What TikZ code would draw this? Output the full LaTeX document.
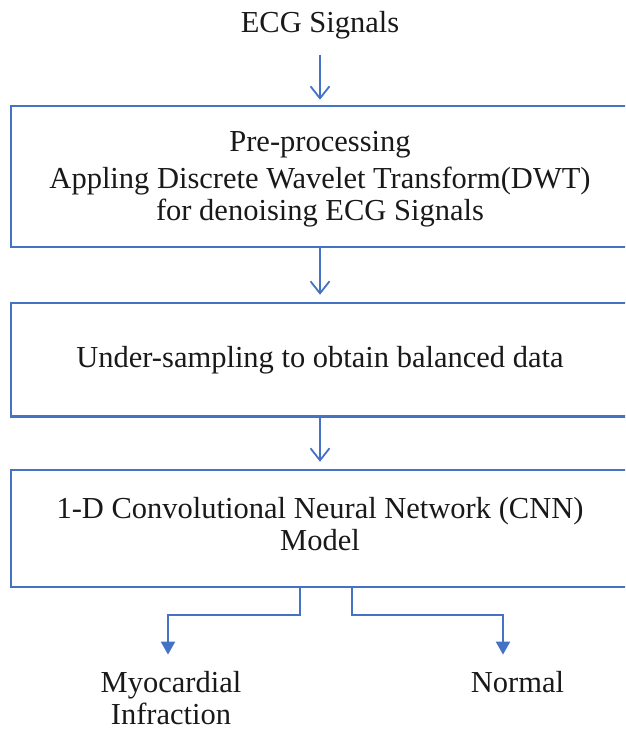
\documentclass[tikz,border=0pt]{standalone}
\usepackage{fontspec}
\setmainfont{Liberation Serif}
\usetikzlibrary{arrows.meta}
\definecolor{flowblue}{RGB}{68,114,196}
\definecolor{ink}{RGB}{25,25,25}
\begin{document}
\begin{tikzpicture}[x=1pt,y=-1pt,
  every node/.style={font=\fontsize{30.5}{32}\selectfont, text=ink},
  stagebox/.style={draw=flowblue, line width=2.5pt, rectangle,
    minimum width=618pt, inner sep=0pt, align=center},
  textlabel/.style={inner sep=0pt, align=center},
  flow/.style={draw=flowblue, line width=2pt,
    -{Straight Barb[length=12pt,width=19pt,line width=1.8pt]}},
  branch/.style={draw=flowblue, line width=2pt,
    -{Triangle[length=13pt,width=14pt]}}]

\useasboundingbox (0,0) rectangle (625,733);
\clip (0,0) rectangle (625,733);

% input
\node[textlabel, anchor=base] (ecg) at (320,33) {ECG Signals};

% processing stages (right border runs off the page)
\node[stagebox, minimum height=141pt] (pre) at (320,176.5)
  {\rule{0pt}{26pt}Pre-processing\\[5pt]Appling Discrete Wavelet Transform(DWT)\\for denoising ECG Signals};
\node[stagebox, minimum height=113.5pt] (us) at (320,359.75)
  {Under-sampling to obtain balanced data};
\node[stagebox, minimum height=117pt] (cnn) at (320,528.5)
  {1-D Convolutional Neural Network (CNN)\\Model\strut};

% outputs (the base anchor sits on the last line)
\node[textlabel, anchor=base] (mi) at (171,724) {Myocardial\\Infraction};
\node[textlabel, anchor=base] (nor) at (517.5,692) {Normal};

% main flow
\draw[flow, shorten <=15pt, shorten >=5pt] (ecg.south) -- (pre.north);
\draw[flow, shorten >=7pt] (pre.south) -- (us.north);
\draw[flow, shorten >=7pt] (us.south) -- (cnn.north);

% classification branches
\draw[branch, shorten >=16pt] ([xshift=-20pt]cnn.south) -- ++(0,27) -| ([xshift=-3pt]mi.north);
\draw[branch, shorten >=16pt] ([xshift=32pt]cnn.south) -- ++(0,27) -| ([xshift=-14.5pt]nor.north);
\end{tikzpicture}
\end{document}
